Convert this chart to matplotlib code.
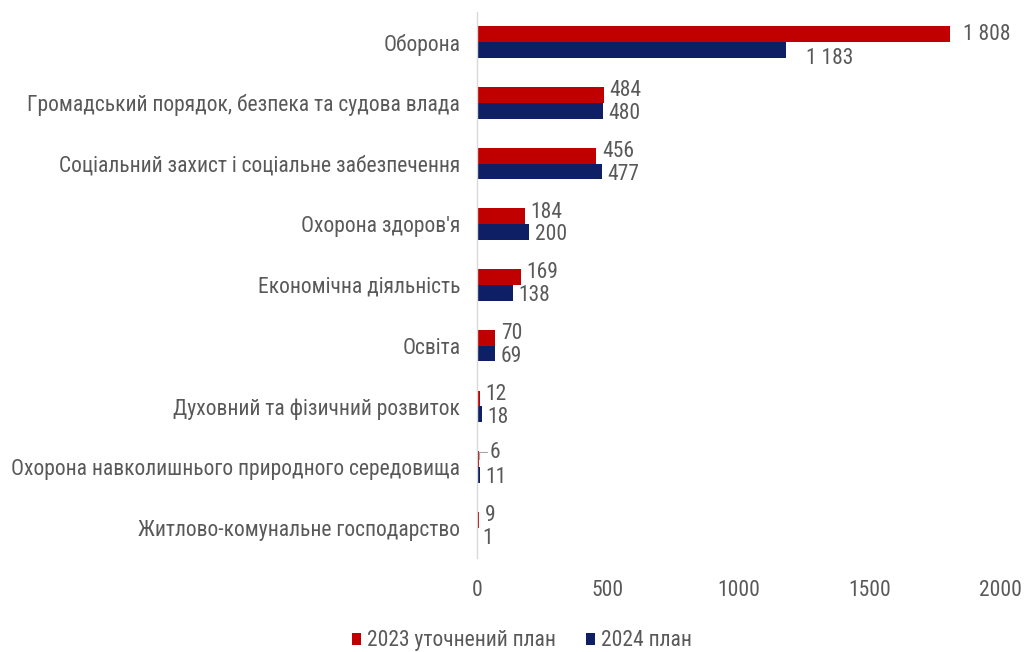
import matplotlib
matplotlib.use('Agg')

import matplotlib.pyplot as plt
import numpy as np

# budget expenditure by function, bn UAH
categories = ['Оборона',
              'Громадський порядок, безпека та судова влада',
              'Соціальний захист і соціальне забезпечення',
              "Охорона здоров'я",
              'Економічна діяльність',
              'Освіта',
              'Духовний та фізичний розвиток',
              'Охорона навколишнього природного середовища',
              'Житлово-комунальне господарство']
plan_2023 = [1808, 484, 456, 184, 169, 70, 12, 6, 9]
plan_2024 = [1183, 480, 477, 200, 138, 69, 18, 11, 1]
series_names = ['2023 уточнений план', '2024 план']
xticks = [0, 500, 1000, 1500, 2000]

red = '#C00000'
navy = '#0E1F66'
grey = '#595959'
fs = 15.5

plt.rcParams['font.family'] = ['Roboto Condensed', 'DejaVu Sans']


def fmt(v):
    return f'{v:,}'.replace(',', ' ')


fig = plt.figure(figsize=(10.28, 6.52), dpi=100)
ax = fig.add_axes([0.464, 0.144, 0.509, 0.838])

y = np.arange(len(categories))
h = 0.26
ax.barh(y - h / 2, plan_2023, height=h, color=red, label=series_names[0])
ax.barh(y + h / 2, plan_2024, height=h, color=navy, label=series_names[1])

ax.set_ylim(len(categories) - 0.5, -0.5)
ax.set_xlim(0, 2000)
ax.set_xticks(xticks)
ax.set_xticklabels([str(t) for t in xticks])
ax.set_yticks(y)
ax.set_yticklabels(categories)
ax.tick_params(axis='x', length=0, pad=16, labelsize=fs, labelcolor=grey)
ax.tick_params(axis='y', length=0, pad=12, labelsize=fs, labelcolor=grey)

for side in ['top', 'right', 'bottom']:
    ax.spines[side].set_visible(False)
ax.spines['left'].set_color('#D9D9D9')
ax.spines['left'].set_linewidth(1.0)

# value labels: 2023 sits a bit high, 2024 a bit low
for i, (a, b) in enumerate(zip(plan_2023, plan_2024)):
    dx_a, dy_a = (9, 0) if i == 0 else (4, 3)
    dx_b, dy_b = (14, -6) if i == 0 else (4, -2)
    if i == 7:
        ax.annotate(fmt(a), xy=(a, i - h / 2), xytext=(8, 5), textcoords='offset points',
                    va='center', ha='left', fontsize=fs, color=grey,
                    arrowprops=dict(arrowstyle='-', color='#A6A6A6', lw=0.8,
                                    shrinkA=0, shrinkB=0,
                                    connectionstyle='angle,angleA=0,angleB=90,rad=0'))
    else:
        ax.annotate(fmt(a), xy=(a, i - h / 2), xytext=(dx_a, dy_a), textcoords='offset points',
                    va='center', ha='left', fontsize=fs, color=grey)
    ax.annotate(fmt(b), xy=(b, i + h / 2), xytext=(dx_b, dy_b), textcoords='offset points',
                va='center', ha='left', fontsize=fs, color=grey)

ax.legend(loc='center', bbox_to_anchor=(0.508, 0.017), bbox_transform=fig.transFigure,
          ncol=2, frameon=False, fontsize=fs, labelcolor=grey,
          handlelength=0.4, handleheight=0.5, handletextpad=0.3, columnspacing=1.4)

fig.savefig('out.png', dpi=100)
